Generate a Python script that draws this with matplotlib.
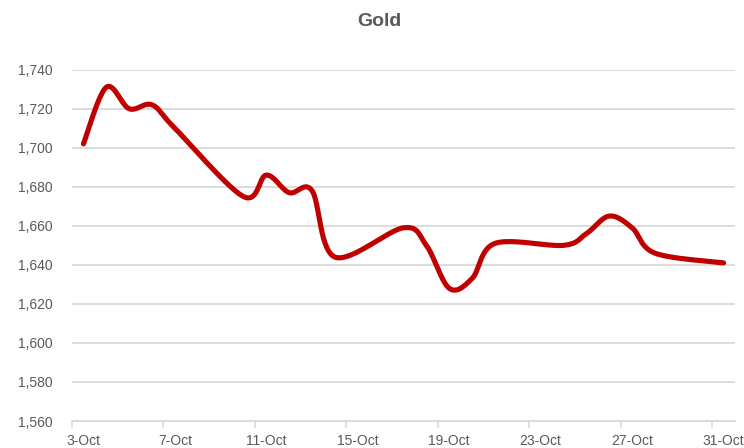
import numpy as np
import matplotlib
matplotlib.use("Agg")
import matplotlib.pyplot as plt
from matplotlib.ticker import FixedLocator, NullFormatter, FixedFormatter

# Data (day of October, gold price)
days = [3, 4, 5, 6, 7, 10, 11, 12, 13, 14, 17, 18, 19, 20, 21, 24, 25, 26, 27, 28, 31]
prices = [1702, 1731, 1720, 1722, 1710, 1675, 1686, 1677, 1678, 1644, 1659, 1650,
          1628, 1633, 1651, 1650, 1656, 1665, 1659, 1646, 1641]
tick_days = [3, 7, 11, 15, 19, 23, 27, 31]
tick_labels = ["3-Oct", "7-Oct", "11-Oct", "15-Oct", "19-Oct", "23-Oct", "27-Oct", "31-Oct"]
y_ticks = [1560, 1580, 1600, 1620, 1640, 1660, 1680, 1700, 1720, 1740]


def smooth(xs, ys, n=40):
    pts = np.column_stack([xs, ys]).astype(float)
    out = []
    m = len(pts)
    for i in range(m - 1):
        p0 = pts[i - 1] if i > 0 else pts[i]
        p1 = pts[i]
        p2 = pts[i + 1]
        p3 = pts[i + 2] if i + 2 < m else pts[i + 1]
        c1 = p1 + (p2 - p0) / 6.0
        c2 = p2 - (p3 - p1) / 6.0
        t = np.linspace(0, 1, n, endpoint=(i == m - 2))[:, None]
        seg = ((1 - t) ** 3) * p1 + 3 * ((1 - t) ** 2) * t * c1 + 3 * (1 - t) * t ** 2 * c2 + t ** 3 * p2
        out.append(seg)
    out = np.vstack(out)
    return out[:, 0], out[:, 1]


plt.rcParams['font.family'] = ['Liberation Sans', 'DejaVu Sans']
fig = plt.figure(figsize=(7.44, 4.48), dpi=100)
ax = fig.add_axes([72 / 744, 1 - 421 / 448, (735 - 72) / 744, (421 - 69.7) / 448])

sx, sy = smooth(days, prices)
ax.plot(sx, sy, color="#C00000", lw=3.7, solid_capstyle="round", solid_joinstyle="round", zorder=3)

ax.set_xlim(2.5, 31.5)
ax.set_ylim(1560, 1740)
ax.set_yticks(y_ticks)
ax.set_yticklabels([f"{v:,}" for v in y_ticks])
ax.yaxis.grid(True, color="#D9D9D9", lw=1.3)
ax.set_axisbelow(True)

ax.xaxis.set_major_locator(FixedLocator([d - 0.5 for d in tick_days]))
ax.xaxis.set_major_formatter(NullFormatter())
ax.xaxis.set_minor_locator(FixedLocator(tick_days))
ax.xaxis.set_minor_formatter(FixedFormatter(tick_labels))
ax.tick_params(axis="x", which="major", length=5, width=1.2, color="#D9D9D9", direction="out")
ax.tick_params(axis="x", which="minor", length=0, pad=9, labelsize=10, labelcolor="#595959")
ax.tick_params(axis="y", length=0, pad=14, labelsize=10, labelcolor="#595959")

for s in ["top", "right", "left"]:
    ax.spines[s].set_visible(False)
ax.spines["bottom"].set_color("#D9D9D9")
ax.spines["bottom"].set_linewidth(1.3)

fig.text(379 / 744, 1 - 22 / 448, "Gold", ha="center", va="center",
         fontsize=14, fontweight="bold", color="#595959")

fig.savefig("out.png", dpi=100)
